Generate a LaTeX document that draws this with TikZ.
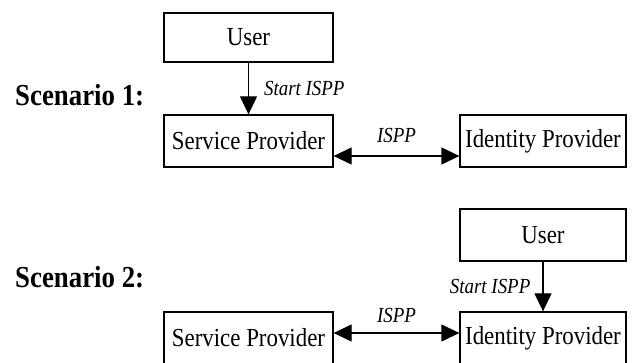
\documentclass[tikz,border=0pt]{standalone}
\usepackage{fontspec}
\setmainfont[FakeStretch=0.88]{Liberation Serif}
\usetikzlibrary{arrows.meta}

\tikzset{
  box/.style={draw, line width=1.3pt, inner sep=0pt, minimum width=169pt,
    minimum height=52pt, font=\fontsize{26}{30}\selectfont},
  widebox/.style={box, minimum width=166pt},
  scen/.style={anchor=west, inner sep=0pt, font=\fontsize{30.5}{34}\selectfont\bfseries},
  msg/.style={inner sep=0pt, font=\fontsize{21.5}{24}\selectfont\itshape},
  flow/.style={line width=1.3pt, -{Triangle[length=18pt,width=17pt]}},
  bothflow/.style={line width=1.3pt, {Triangle[length=18pt,width=17pt]}-{Triangle[length=18pt,width=17pt]}}
}

\begin{document}
\begin{tikzpicture}[x=1pt, y=-1pt]
  \clip (0,0) rectangle (638,363);
  \fill[white] (0,0) rectangle (638,363);

  % Scenario 1: the user starts ISPP at the service provider
  \node[scen] (s1) at (15,95) {Scenario 1:};
  \node[box, minimum height=49pt] (u1) at (248.5,37.5) {User};
  \node[box] (sp1) at (248.5,141) {Service Provider};
  \node[widebox] (id1) at (543,141) {Identity Provider};
  \draw[flow] (u1.south) -- node[msg, midway, right=15pt] (m1) {Start ISPP} (sp1.north);
  \draw[bothflow] ([yshift=-15pt]sp1.east) -- node[msg, midway, above=13pt] (p1) {ISPP} ([yshift=-15pt]id1.west);

  % Scenario 2: the user starts ISPP at the identity provider
  \node[scen] (s2) at (15,277) {Scenario 2:};
  \node[widebox] (u2) at (543,235) {User};
  \node[box] (sp2) at (248.5,338) {Service Provider};
  \node[widebox] (id2) at (543,338) {Identity Provider};
  \draw[flow] (u2.south) -- node[msg, midway, left=12pt] (m2) {Start ISPP} (id2.north);
  \draw[bothflow] ([yshift=5pt]sp2.east) -- node[msg, midway, above=10pt] (p2) {ISPP} ([yshift=5pt]id2.west);
\end{tikzpicture}
\end{document}
